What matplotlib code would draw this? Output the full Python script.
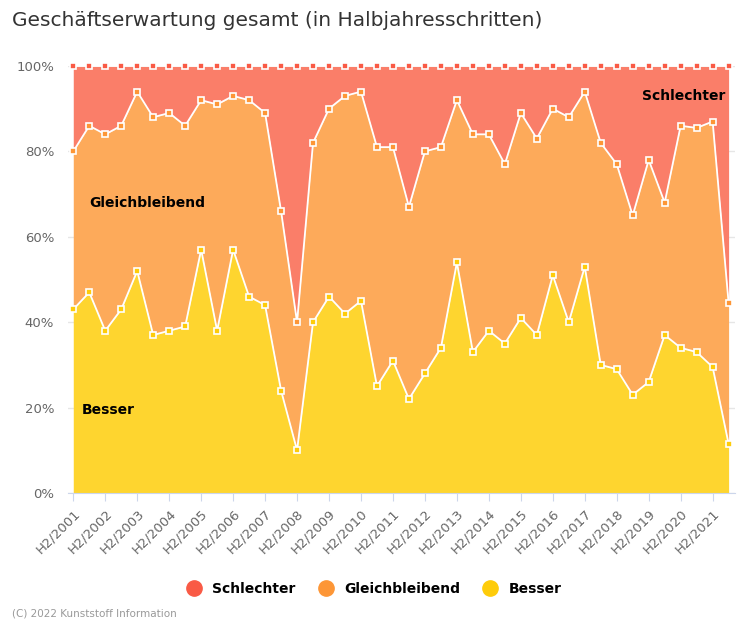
import numpy as np
import matplotlib.pyplot as plt

# values (percent)
years = list(range(2001, 2022))
tick_labels = [f'H2/{y}' for y in years]

besser = [43, 47, 38, 43, 52, 37, 38, 39, 57, 38, 57, 46, 44, 24, 10, 40, 46, 42, 45, 25,
          31, 22, 28, 34, 54, 33, 38, 35, 41, 37, 51, 40, 53, 30, 29, 23, 26, 37, 34, 33,
          29.5, 11.5]
# top of the "Gleichbleibend" band (Besser + Gleichbleibend)
besser_gleich = [80, 86, 84, 86, 94, 88, 89, 86, 92, 91, 93, 92, 89, 66, 40, 82, 90, 93, 94, 81,
                 81, 67, 80, 81, 92, 84, 84, 77, 89, 83, 90, 88, 94, 82, 77, 65, 78, 68, 86, 85.5,
                 87, 44.5]

besser = np.array(besser)
gleich = np.array(besser_gleich) - besser
schlechter = 100 - np.array(besser_gleich)

names = ['Schlechter', 'Gleichbleibend', 'Besser']
legend_colors = ['#F95A45', '#FD9636', '#FECC0A']
area_colors = ['#FA7E69', '#FDAA5A', '#FED52F']

x = np.arange(len(besser))
lower = np.zeros(len(x))
tops = []
for vals in [besser, gleich, schlechter]:
    tops.append(lower + vals)
    lower = lower + vals
tops = tops[::-1]  # Schlechter, Gleich, Besser

fig = plt.figure(figsize=(7.49, 6.24), dpi=100)
ax = fig.add_axes([68 / 749, 1 - 493 / 624, (735 - 68) / 749, (493 - 66) / 624])

bottoms = [tops[1], tops[2], np.zeros(len(x))]
for top, bot, c in zip(tops, bottoms, area_colors):
    ax.fill_between(x, bot, top, color=c, lw=0, zorder=2)
for top, c in zip(tops, legend_colors):
    ax.plot(x, top, color='white', lw=1.3, zorder=3)
    ax.plot(x, top, ls='none', marker='s', ms=5, mfc=c, mec='white', mew=1.2, zorder=4,
            clip_on=False)

ax.set_xlim(-0.33, 41.4)
ax.set_ylim(0, 100)
ax.set_yticks([0, 20, 40, 60, 80, 100])
ax.set_yticklabels(['0%', '20%', '40%', '60%', '80%', '100%'], color='#666666', fontsize=9.5)
ax.yaxis.grid(True, color='#e6e6e6', lw=1, zorder=0)
ax.set_axisbelow(True)
ax.tick_params(axis='y', length=0, pad=10)

ax.set_xticks(x[::2])
ax.set_xticklabels(tick_labels, rotation=45, ha='right', rotation_mode='anchor',
                   color='#666666', fontsize=9.5)
ax.tick_params(axis='x', length=6, color='#ccd6eb', pad=4)
for s in ['top', 'right', 'left']:
    ax.spines[s].set_visible(False)
ax.spines['bottom'].set_color('#ccd6eb')

ax.text(40.8, 93, 'Schlechter', fontsize=10, fontweight='bold', ha='right', va='center', zorder=5)
ax.text(1.0, 68, 'Gleichbleibend', fontsize=10, fontweight='bold', ha='left', va='center', zorder=5)
ax.text(0.5, 19.5, 'Besser', fontsize=10, fontweight='bold', ha='left', va='center', zorder=5)

fig.text(12 / 749, 1 - 20 / 624, 'Geschäftserwartung gesamt (in Halbjahresschritten)',
         fontsize=14.5, color='#333333', ha='left', va='center')

handles = [plt.Line2D([], [], ls='none', marker='o', ms=11, mfc=c, mec=c) for c in legend_colors]
fig.legend(handles, names, loc='center', bbox_to_anchor=(0.495, 1 - 589 / 624), ncol=3,
           frameon=False, handletextpad=0.3, columnspacing=1.2, prop={'weight': 'bold', 'size': 10})

fig.text(12 / 749, 1 - 613 / 624, '(C) 2022 Kunststoff Information', fontsize=7.5,
         color='#999999', ha='left', va='center')

fig.savefig('out.png', dpi=100)
